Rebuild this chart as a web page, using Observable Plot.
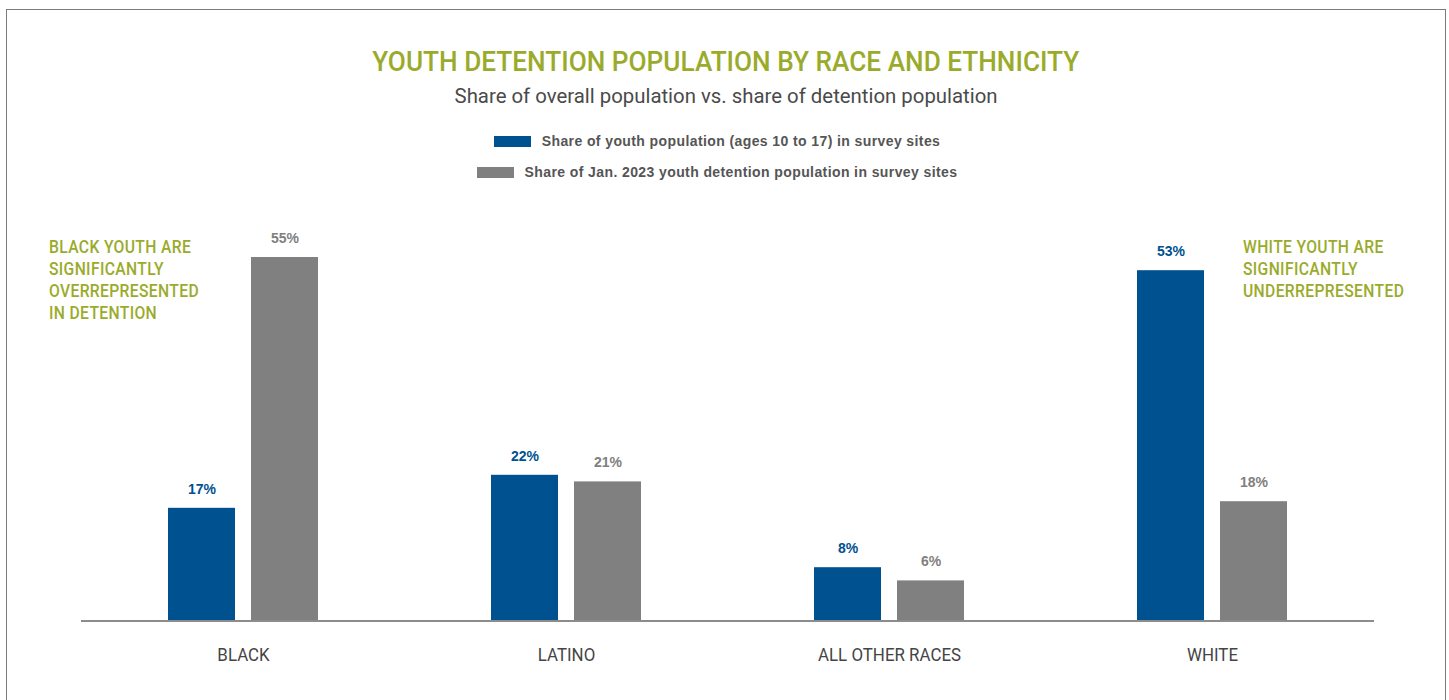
<!DOCTYPE html>
<html>
<head>
<meta charset="utf-8">
<script src="https://cdn.jsdelivr.net/npm/d3@7"></script>
<script src="https://cdn.jsdelivr.net/npm/@observablehq/plot@0.6"></script>
<style>
  html, body { margin: 0; padding: 0; background: #fff; width: 1449px; height: 700px; overflow: hidden; }
  .cond { font-family: Roboto, "Noto Sans", sans-serif; }
  #frame { position: absolute; left: 6px; top: 9px; width: 1440px; height: 760px; border: 1.5px solid #7a7a7a; box-sizing: border-box; }
  .centerbox { position: absolute; left: 0; width: 1452px; text-align: center; }
  .centerbox span { display: inline-block; transform-origin: 50% 50%; white-space: nowrap; }
  #title { top: 47.5px; font-size: 28px; line-height: 28px; color: #9aab2b; font-weight: 500; }
  #subtitle { top: 86px; font-size: 21px; line-height: 21px; color: #4a4a4a; }
  .legrow { position: absolute; left: 0; width: 1434px; display: flex; justify-content: center; align-items: center; font-family: "Liberation Sans", Arial, sans-serif; font-weight: bold; font-size: 14px; color: #555; letter-spacing: 0.4px; }
  .sw { width: 37px; height: 11px; margin-right: 11px; }
  .note { position: absolute; font-size: 18px; line-height: 22px; color: #9aab2b; letter-spacing: 0.4px; font-weight: 500; transform-origin: 0 0; white-space: nowrap; }
  #chart { position: absolute; left: 0; top: 195px; }
</style>
</head>
<body>
<div id="frame"></div>
<div id="title" class="centerbox cond"><span>YOUTH DETENTION POPULATION BY RACE AND ETHNICITY</span></div>
<div id="subtitle" class="centerbox cond"><span>Share of overall population vs. share of detention population</span></div>
<div id="legend"></div>
<div id="noteL" class="note cond" style="left:49px; top:235.5px;">BLACK YOUTH ARE<br>SIGNIFICANTLY<br><span id="probe">OVERREPRESENTED</span><br>IN DETENTION</div>
<div id="noteR" class="note cond" style="left:1243px; top:235.5px;">WHITE YOUTH ARE<br>SIGNIFICANTLY<br>UNDERREPRESENTED</div>
<div id="chart"></div>
<script>
const races = ["Black", "Latino", "All other races", "White"];
const seriesNames = [
  "Share of youth population (ages 10 to 17) in survey sites",
  "Share of Jan. 2023 youth detention population in survey sites"
];
const youthShare = [17, 22, 8, 53];
const detentionShare = [55, 21, 6, 18];
const seriesColors = ["#00518f", "#808080"];

const rows = [];
races.forEach((r, i) => {
  rows.push({race: r, series: seriesNames[0], value: youthShare[i]});
  rows.push({race: r, series: seriesNames[1], value: detentionShare[i]});
});

// legend
const legend = document.getElementById("legend");
const legendTops = [133, 164];
seriesNames.forEach((s, i) => {
  const row = document.createElement("div");
  row.className = "legrow";
  row.style.top = legendTops[i] + "px";
  row.innerHTML = `<div class="sw" style="background:${seriesColors[i]}"></div><span>${s}</span>`;
  legend.appendChild(row);
});

// condense the text set in Roboto to the narrow face of the original
function squeeze(span, target) {
  const w = span.getBoundingClientRect().width;
  span.style.transform = `scaleX(${target / w})`;
}
squeeze(document.querySelector("#title span"), 707);
squeeze(document.querySelector("#subtitle span"), 543);
const probeW = document.getElementById("probe").getBoundingClientRect().width;
const noteScale = 150 / probeW;
document.getElementById("noteL").style.transform = `scaleX(${noteScale})`;
document.getElementById("noteR").style.transform = `scaleX(${noteScale})`;

const chart = Plot.plot({
  width: 1449,
  height: 505,
  marginLeft: 86,
  marginRight: 80,
  marginTop: 29,
  marginBottom: 80,
  style: {background: "transparent", overflow: "visible"},
  fx: {domain: races, paddingInner: 0.53, paddingOuter: 0.25, label: null},
  x: {domain: seriesNames, paddingInner: 0.19, paddingOuter: 0, axis: null},
  y: {domain: [0, 60], axis: null},
  color: {domain: seriesNames, range: seriesColors},
  marks: [
    Plot.barY(rows, {fx: "race", x: "series", y: "value", fill: "series"}),
    Plot.ruleY([0], {stroke: "#8c8c8c", strokeWidth: 2, insetLeft: -86, insetRight: -86, shapeRendering: "crispEdges"}),
    Plot.text(rows, {
      fx: "race", x: "series", y: "value",
      text: d => d.value + "%",
      dy: -19,
      fill: "series",
      fontSize: 14,
      fontWeight: "bold",
      fontFamily: '"Liberation Sans", Arial, sans-serif'
    }),
    Plot.axisFx({
      anchor: "bottom",
      tickSize: 0,
      tickPadding: 27,
      label: null,
      tickFormat: d => d.toUpperCase(),
      fontSize: 18.5,
      fontFamily: "Roboto, sans-serif",
      fill: "#454545"
    })
  ]
});
document.getElementById("chart").appendChild(chart);

// condense category labels the same way
const axisTexts = chart.querySelectorAll('g[aria-label="fx-axis tick label"] text');
let refLen = null;
axisTexts.forEach(t => { if (t.textContent === "ALL OTHER RACES") refLen = t.getComputedTextLength(); });
const axisScale = refLen ? 143 / refLen : 0.85;
axisTexts.forEach(t => {
  const len = t.getComputedTextLength();
  t.setAttribute("textLength", len * axisScale);
  t.setAttribute("lengthAdjust", "spacingAndGlyphs");
});
</script>
</body>
</html>
